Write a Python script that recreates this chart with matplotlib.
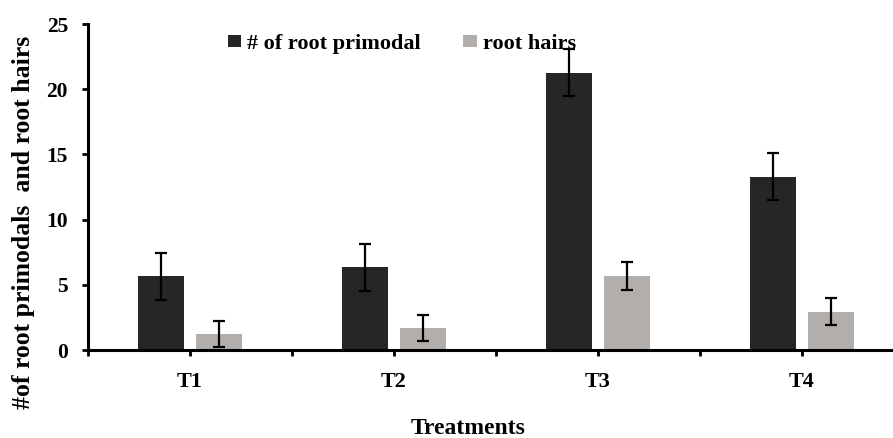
import matplotlib.pyplot as plt
import numpy as np

treatments = ['T1', 'T2', 'T3', 'T4']
primordia = [5.67, 6.35, 21.27, 13.3]
primordia_err = [1.8, 1.8, 1.8, 1.83]
hairs = [1.25, 1.7, 5.67, 2.94]
hairs_err = [1.0, 1.0, 1.05, 1.05]

plt.rcParams['font.family'] = 'Liberation Serif'
plt.rcParams['font.weight'] = 'bold'

fig = plt.figure(figsize=(8.93, 4.38), dpi=100)
ax = fig.add_axes([0.0985, 0.2009, 0.9015, 0.744])

x = np.arange(len(treatments))
w = 0.225
off = 0.143
ax.bar(x - off, primordia, w, color='#262626', label='# of root primodal', zorder=2)
ax.bar(x + off, hairs, w, color='#b1aeac', label='root hairs', zorder=2)
ax.errorbar(x - off, primordia, yerr=primordia_err, fmt='none', ecolor='black',
            elinewidth=1.6, capsize=4.6, capthick=1.6, zorder=3)
ax.errorbar(x + off, hairs, yerr=hairs_err, fmt='none', ecolor='black',
            elinewidth=1.6, capsize=4.6, capthick=1.6, zorder=3)

ax.set_xlim(-0.5, 3.446)
ax.set_ylim(0, 25)
ax.set_yticks([0, 5, 10, 15, 20, 25])
ax.set_xticks(x)
ax.set_xticklabels(treatments, fontsize=16, fontweight='bold')
# small ticks on every category edge as well as under each label
ax.set_xticks(np.arange(-0.5, 3.5, 0.5), minor=True)
ax.tick_params(axis='x', which='both', length=4, width=2, direction='out', pad=11.5)
ax.tick_params(axis='y', length=4.3, width=2, labelsize=15.5, pad=10)
for lbl in ax.get_yticklabels():
    lbl.set_fontweight('bold')

for side in ['top', 'right']:
    ax.spines[side].set_visible(False)
for side in ['left', 'bottom']:
    ax.spines[side].set_linewidth(2.2)

ax.set_ylabel('#of root primodals  and root hairs', fontsize=18.5, fontweight='bold')
ax.yaxis.set_label_coords(-0.066, 0.393)
ax.set_xlabel('Treatments', fontsize=17, fontweight='bold')
ax.xaxis.set_label_coords(0.472, -0.209)

ax.legend(loc='center left', bbox_to_anchor=(228 / 893, 1 - 44 / 438),
          bbox_transform=fig.transFigure, ncol=2, frameon=False, borderpad=0,
          borderaxespad=0, handlelength=0.6, handleheight=0.5, handletextpad=0.27,
          columnspacing=1.9, prop={'weight': 'bold', 'size': 16})

fig.savefig('out.png', dpi=100)
